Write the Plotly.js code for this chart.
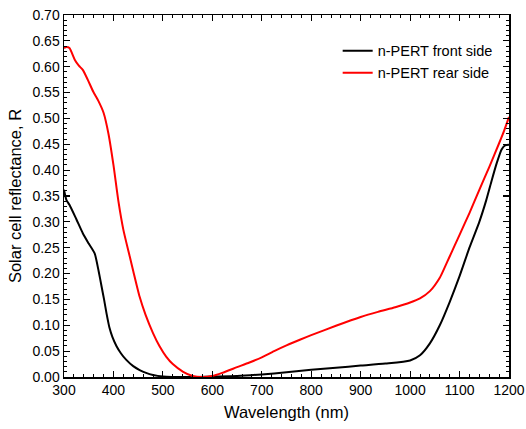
<!DOCTYPE html>
<html>
<head>
<meta charset="utf-8">
<script src="https://cdn.plot.ly/plotly-3.0.1.min.js"></script>
<style>html,body{margin:0;padding:0;background:#fff;}#chart{width:526px;height:429px;}</style>
</head>
<body>
<div id="chart"></div>
<script>
var frontWavelength = [300, 305, 311, 325, 338, 350, 362, 370, 376, 381, 386, 392, 398, 406, 415, 426, 440, 453, 466, 480, 500, 550, 600, 650, 700, 750, 800, 850, 900, 950, 1000, 1020, 1040, 1060, 1080, 1100, 1120, 1140, 1154, 1165, 1175, 1185, 1192, 1200];
var frontReflectance = [0.362, 0.342, 0.333, 0.305, 0.278, 0.258, 0.239, 0.205, 0.175, 0.15, 0.123, 0.095, 0.077, 0.060, 0.046, 0.033, 0.021, 0.0135, 0.008, 0.004, 0.001, 0.0, 0.001, 0.002, 0.005, 0.009, 0.014, 0.018, 0.022, 0.026, 0.032, 0.042, 0.065, 0.10, 0.145, 0.195, 0.25, 0.30, 0.342, 0.38, 0.413, 0.44, 0.448, 0.449];

var rearWavelength = [300, 305, 311, 322, 330, 338, 348, 359, 370, 380, 390, 400, 410, 420, 433, 440, 453, 465, 480, 493, 507, 520, 541, 560, 580, 600, 620, 650, 675, 700, 725, 750, 777, 800, 850, 900, 935, 970, 1000, 1020, 1040, 1060, 1070, 1080, 1090, 1100, 1120, 1140, 1160, 1180, 1190, 1200];
var rearReflectance = [0.636, 0.638, 0.636, 0.613, 0.602, 0.594, 0.575, 0.552, 0.533, 0.511, 0.47, 0.41, 0.34, 0.285, 0.233, 0.205, 0.155, 0.12, 0.085, 0.06, 0.039, 0.025, 0.010, 0.002, 0.0, 0.002, 0.008, 0.019, 0.028, 0.038, 0.05, 0.061, 0.072, 0.081, 0.099, 0.116, 0.126, 0.135, 0.144, 0.152, 0.166, 0.192, 0.212, 0.233, 0.254, 0.275, 0.317, 0.362, 0.406, 0.452, 0.476, 0.503];

var seriesNames = ["n-PERT front side", "n-PERT rear side"];

var traces = [
  {x: frontWavelength, y: frontReflectance, name: seriesNames[0], type: "scatter", mode: "lines",
   line: {color: "#000000", width: 2, shape: "spline", smoothing: 0.6}},
  {x: rearWavelength, y: rearReflectance, name: seriesNames[1], type: "scatter", mode: "lines",
   line: {color: "#ff0000", width: 2, shape: "spline", smoothing: 0.6}}
];

var fontFam = "Liberation Sans, Arial, sans-serif";
var axisCommon = {
  showline: true, linecolor: "#000", linewidth: 1.5, mirror: "allticks",
  ticks: "inside", ticklen: 6, tickwidth: 1.2, tickcolor: "#000",
  showgrid: false, zeroline: false,
  tickfont: {family: fontFam, size: 14, color: "#000"}
};

var layout = {
  width: 526, height: 429,
  margin: {l: 64, r: 17, t: 15, b: 52},
  paper_bgcolor: "#fff", plot_bgcolor: "#fff",
  showlegend: true,
  legend: {x: 0.615, y: 0.945, xanchor: "left", yanchor: "top", bgcolor: "rgba(0,0,0,0)",
           font: {family: fontFam, size: 14.5, color: "#000"},
           tracegroupgap: 0, itemwidth: 30},
  xaxis: Object.assign({}, axisCommon, {
    range: [300, 1200], dtick: 100, tick0: 300,
    minor: {dtick: 20, ticks: "inside", ticklen: 3, tickwidth: 1, tickcolor: "#000"},
    title: {text: "Wavelength (nm)", standoff: 9, font: {family: fontFam, size: 16.5, color: "#000"}}
  }),
  yaxis: Object.assign({}, axisCommon, {
    range: [0, 0.70], dtick: 0.05, tick0: 0, tickformat: ".2f",
    minor: {dtick: 0.01, ticks: "inside", ticklen: 3, tickwidth: 1, tickcolor: "#000"},
    title: {text: "Solar cell reflectance, R", standoff: 6, font: {family: fontFam, size: 16.5, color: "#000"}}
  })
};

Plotly.newPlot("chart", traces, layout, {displayModeBar: false, staticPlot: true});
</script>
</body>
</html>
